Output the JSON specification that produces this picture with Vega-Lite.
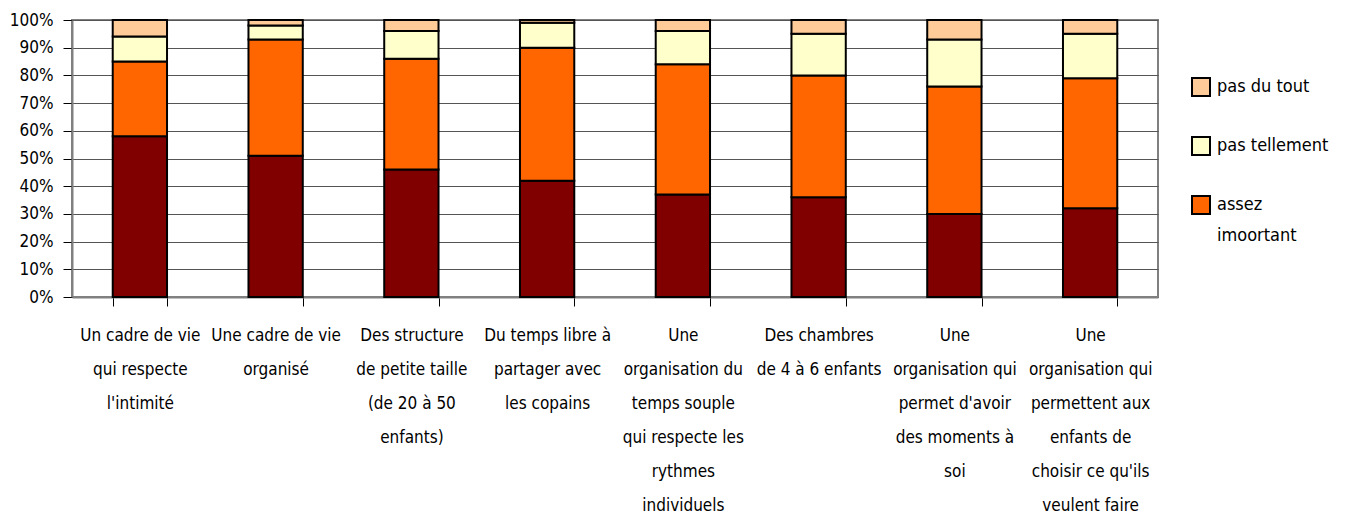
{
  "$schema": "https://vega.github.io/schema/vega-lite/v6.json",
  "width": 1086,
  "height": 277,
  "autosize": {"type": "none"},
  "padding": {"left": 72, "top": 20, "right": 191, "bottom": 219},
  "background": "white",
  "config": {
    "font": "Liberation Sans Narrow, DejaVu Sans Condensed, sans-serif",
    "view": {"stroke": "#808080", "strokeWidth": 2}
  },
  "data": {
    "values": [
      {"item": "Un cadre de vie\nqui respecte\nl'intimité", "serie": "très important", "k": 1, "pct": 58},
      {"item": "Un cadre de vie\nqui respecte\nl'intimité", "serie": "assez imoortant", "k": 2, "pct": 27},
      {"item": "Un cadre de vie\nqui respecte\nl'intimité", "serie": "pas tellement", "k": 3, "pct": 9},
      {"item": "Un cadre de vie\nqui respecte\nl'intimité", "serie": "pas du tout", "k": 4, "pct": 6},
      {"item": "Une cadre de vie\norganisé", "serie": "très important", "k": 1, "pct": 51},
      {"item": "Une cadre de vie\norganisé", "serie": "assez imoortant", "k": 2, "pct": 42},
      {"item": "Une cadre de vie\norganisé", "serie": "pas tellement", "k": 3, "pct": 5},
      {"item": "Une cadre de vie\norganisé", "serie": "pas du tout", "k": 4, "pct": 2},
      {"item": "Des structure\nde petite taille\n(de 20 à 50\nenfants)", "serie": "très important", "k": 1, "pct": 46},
      {"item": "Des structure\nde petite taille\n(de 20 à 50\nenfants)", "serie": "assez imoortant", "k": 2, "pct": 40},
      {"item": "Des structure\nde petite taille\n(de 20 à 50\nenfants)", "serie": "pas tellement", "k": 3, "pct": 10},
      {"item": "Des structure\nde petite taille\n(de 20 à 50\nenfants)", "serie": "pas du tout", "k": 4, "pct": 4},
      {"item": "Du temps libre à\npartager avec\nles copains", "serie": "très important", "k": 1, "pct": 42},
      {"item": "Du temps libre à\npartager avec\nles copains", "serie": "assez imoortant", "k": 2, "pct": 48},
      {"item": "Du temps libre à\npartager avec\nles copains", "serie": "pas tellement", "k": 3, "pct": 9},
      {"item": "Du temps libre à\npartager avec\nles copains", "serie": "pas du tout", "k": 4, "pct": 1},
      {"item": "Une\norganisation du\ntemps souple\nqui respecte les\nrythmes\nindividuels", "serie": "très important", "k": 1, "pct": 37},
      {"item": "Une\norganisation du\ntemps souple\nqui respecte les\nrythmes\nindividuels", "serie": "assez imoortant", "k": 2, "pct": 47},
      {"item": "Une\norganisation du\ntemps souple\nqui respecte les\nrythmes\nindividuels", "serie": "pas tellement", "k": 3, "pct": 12},
      {"item": "Une\norganisation du\ntemps souple\nqui respecte les\nrythmes\nindividuels", "serie": "pas du tout", "k": 4, "pct": 4},
      {"item": "Des chambres\nde 4 à 6 enfants", "serie": "très important", "k": 1, "pct": 36},
      {"item": "Des chambres\nde 4 à 6 enfants", "serie": "assez imoortant", "k": 2, "pct": 44},
      {"item": "Des chambres\nde 4 à 6 enfants", "serie": "pas tellement", "k": 3, "pct": 15},
      {"item": "Des chambres\nde 4 à 6 enfants", "serie": "pas du tout", "k": 4, "pct": 5},
      {"item": "Une\norganisation qui\npermet d'avoir\ndes moments à\nsoi", "serie": "très important", "k": 1, "pct": 30},
      {"item": "Une\norganisation qui\npermet d'avoir\ndes moments à\nsoi", "serie": "assez imoortant", "k": 2, "pct": 46},
      {"item": "Une\norganisation qui\npermet d'avoir\ndes moments à\nsoi", "serie": "pas tellement", "k": 3, "pct": 17},
      {"item": "Une\norganisation qui\npermet d'avoir\ndes moments à\nsoi", "serie": "pas du tout", "k": 4, "pct": 7},
      {"item": "Une\norganisation qui\npermettent aux\nenfants de\nchoisir ce qu'ils\nveulent faire", "serie": "très important", "k": 1, "pct": 32},
      {"item": "Une\norganisation qui\npermettent aux\nenfants de\nchoisir ce qu'ils\nveulent faire", "serie": "assez imoortant", "k": 2, "pct": 47},
      {"item": "Une\norganisation qui\npermettent aux\nenfants de\nchoisir ce qu'ils\nveulent faire", "serie": "pas tellement", "k": 3, "pct": 16},
      {"item": "Une\norganisation qui\npermettent aux\nenfants de\nchoisir ce qu'ils\nveulent faire", "serie": "pas du tout", "k": 4, "pct": 5}
    ]
  },
  "mark": {"type": "bar", "stroke": "#000000", "strokeWidth": 2},
  "encoding": {
    "x": {
      "field": "item",
      "type": "nominal",
      "sort": null,
      "scale": {"paddingInner": 0.6, "paddingOuter": 0.3},
      "axis": {
        "title": null,
        "labelAngle": 0,
        "labelExpr": "split(datum.label, '\\n')",
        "labelLimit": 0,
        "labelFontSize": 17,
        "labelLineHeight": 34,
        "labelBaseline": "top",
        "labelColor": "#000000",
        "labelPadding": 21,
        "tickBand": "extent",
        "tickSize": 9,
        "tickColor": "#000000",
        "domainColor": "#808080",
        "domainWidth": 2,
        "grid": false
      }
    },
    "y": {
      "field": "pct",
      "type": "quantitative",
      "stack": "zero",
      "scale": {"domain": [0, 100], "nice": false},
      "axis": {
        "title": null,
        "values": [0, 10, 20, 30, 40, 50, 60, 70, 80, 90, 100],
        "labelExpr": "datum.value + '%'",
        "labelFontSize": 17,
        "labelColor": "#000000",
        "labelPadding": 10,
        "tickSize": 9,
        "tickColor": "#000000",
        "domainColor": "#808080",
        "domainWidth": 2,
        "grid": true,
        "gridColor": "#555555",
        "gridWidth": 1
      }
    },
    "color": {
      "field": "serie",
      "type": "nominal",
      "scale": {
        "domain": ["pas du tout", "pas tellement", "assez imoortant", "très important"],
        "range": ["#FFCC99", "#FFFFCC", "#FF6600", "#800000"]
      },
      "legend": {
        "title": null,
        "orient": "none",
        "legendX": 1119,
        "legendY": 57,
        "values": ["pas du tout", "pas tellement", "assez imoortant"],
        "symbolType": "square",
        "symbolSize": 324,
        "symbolStrokeColor": "#000000",
        "symbolStrokeWidth": 2,
        "symbolOpacity": 1,
        "labelFontSize": 18,
        "labelColor": "#000000",
        "labelOffset": 6,
        "labelLimit": 0,
        "labelExpr": "datum.label == 'assez imoortant' ? ['assez', 'imoortant'] : datum.label",
        "rowPadding": 33,
        "encode": {"labels": {"update": {"lineHeight": {"value": 31}}}}
      }
    },
    "order": {"field": "k", "type": "quantitative"}
  }
}
